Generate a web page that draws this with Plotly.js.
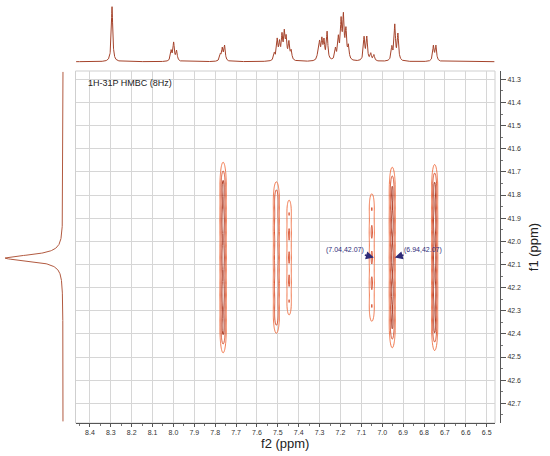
<!DOCTYPE html>
<html>
<head>
<meta charset="utf-8">
<script src="https://cdn.plot.ly/plotly-3.0.1.min.js"></script>
<style>html,body{margin:0;padding:0;background:#fff;}#chart{width:550px;height:456px;}</style>
</head>
<body>
<div id="chart"></div>
<script>
// ---------- data ----------
// 1H projection (top): peak positions (ppm) and heights (px above baseline)
const topPeakPpm = [8.294, 8.011, 7.999, 7.985, 7.776, 7.766, 7.755,
  7.517, 7.503, 7.492, 7.480, 7.469, 7.460, 7.447, 7.436,
  7.307, 7.300, 7.289, 7.279, 7.264,
  7.224, 7.210, 7.197, 7.186, 7.174, 7.162,
  7.087, 7.074, 7.055, 7.040,
  6.954, 6.940, 6.925,
  6.755, 6.743];
const topPeakHeight = [55, 10, 18, 10, 6, 12, 15,
  7, 20, 16, 23, 25, 20, 17, 9,
  9, 16, 19, 18, 28,
  11, 21, 37, 41, 28, 13,
  23, 23, 7, 6,
  13, 35, 26,
  15, 15];
const topLineHalfWidth = 0.004;

// 31P projection (left)
const leftPeakPpm = [42.072];
const leftPeakHeight = [58];
const leftLineHalfWidth = 0.016;

// 2D cross peaks
const crossF2 = [7.762, 7.507, 7.446, 7.050, 6.952, 6.749];
const crossF1 = [42.07, 42.07, 42.07, 42.07, 42.07, 42.07];
const crossHalfSpanF1 = [0.42, 0.34, 0.27, 0.30, 0.40, 0.41];
const crossHalfWidthF2 = [0.0165, 0.017, 0.015, 0.017, 0.016, 0.016];
const crossIntensity = [1.0, 0.85, 0.6, 0.6, 0.95, 1.0];

// picked-peak labels
const labelF2 = [7.04, 6.94];
const labelF1 = [42.07, 42.07];

// axis tick labels
const f2Ticks = [8.4, 8.3, 8.2, 8.1, 8.0, 7.9, 7.8, 7.7, 7.6, 7.5, 7.4, 7.3, 7.2, 7.1, 7.0, 6.9, 6.8, 6.7, 6.6, 6.5];
const f1Ticks = [41.3, 41.4, 41.5, 41.6, 41.7, 41.8, 41.9, 42.0, 42.1, 42.2, 42.3, 42.4, 42.5, 42.6, 42.7];

// ---------- build traces ----------
const f2Range = [8.469, 6.46];
const f1Range = [42.785, 41.264];

function lorentzSum(x, pos, hts, g) {
  let s = 0;
  for (let i = 0; i < pos.length; i++) {
    const d = x - pos[i];
    s += hts[i] * g * g / (d * d + g * g);
  }
  return s;
}

const topX = [], topY = [];
for (let v = 6.463; v <= 8.466; v += 0.0005) {
  topX.push(v);
  topY.push(lorentzSum(v, topPeakPpm, topPeakHeight, topLineHalfWidth));
}

const leftX = [], leftY = [];
for (let v = 41.268; v <= 42.778; v += 0.001) {
  leftY.push(v);
  leftX.push(lorentzSum(v, leftPeakPpm, leftPeakHeight, leftLineHalfWidth));
}

const gx = [], gy = [];
for (let v = 6.46; v <= 8.47; v += 0.002) gx.push(v);
for (let v = 41.26; v <= 42.79; v += 0.004) gy.push(v);
const z = gy.map(f1 => gx.map(f2 => {
  let s = 0;
  for (let i = 0; i < crossF2.length; i++) {
    const dx = f2 - crossF2[i];
    if (Math.abs(dx) > 0.07) continue;
    const h = crossHalfSpanF1[i];
    const dy = f1 - crossF1[i];
    if (Math.abs(dy) > h * 1.5) continue;
    const s2 = crossHalfWidthF2[i] / 1.665;
    const g2 = Math.exp(-0.5 * (dx / s2) * (dx / s2));
    let g1 = 0;
    for (let k = -2; k <= 2; k++) {
      const t = (dy - k * 0.37 * h) / (0.16 * h);
      g1 += Math.exp(-0.5 * t * t);
    }
    s += crossIntensity[i] * g2 * g1 / 1.3;
  }
  return s;
}));

const traces = [
  {
    type: 'contour', x: gx, y: gy, z: z, xaxis: 'x', yaxis: 'y',
    contours: {coloring: 'lines', start: 0.25, end: 1.0, size: 0.25},
    colorscale: [[0, '#f07448'], [0.34, '#d64e2c'], [0.67, '#a8341c'], [1, '#8a2613']],
    zmin: 0.25, zmax: 1.0, showscale: false, line: {width: 1}, hoverinfo: 'skip'
  },
  {
    type: 'scatter', mode: 'lines', x: topX, y: topY, xaxis: 'x2', yaxis: 'y2',
    line: {color: '#a5432b', width: 1}, hoverinfo: 'skip'
  },
  {
    type: 'scatter', mode: 'lines', x: leftX, y: leftY, xaxis: 'x3', yaxis: 'y3',
    line: {color: '#b25a40', width: 1}, hoverinfo: 'skip'
  }
];

const tickFont = {family: 'Liberation Sans, Arial, sans-serif', size: 7, color: '#333'};
const mainXDomain = [75.5 / 550, 495 / 550];
const mainYDomain = [1 - 423 / 456, 1 - 71 / 456];

const layout = {
  width: 550, height: 456,
  margin: {l: 0, r: 0, t: 0, b: 0},
  paper_bgcolor: '#fff', plot_bgcolor: '#fff',
  showlegend: false,
  xaxis: {
    domain: mainXDomain, range: f2Range, anchor: 'y',
    tickmode: 'array', tickvals: f2Ticks, ticktext: f2Ticks.map(t => t.toFixed(1)),
    ticks: 'outside', ticklen: 3, tickcolor: '#555', tickfont: tickFont,
    showline: true, linecolor: '#555', linewidth: 1,
    showgrid: true, gridcolor: '#d6d6d6', gridwidth: 1, zeroline: false,
    minor: {ticks: 'outside', dtick: 0.05, tick0: 8.4, ticklen: 2, tickcolor: '#777', showgrid: false},
    title: {text: 'f2 (ppm)', font: {family: 'Liberation Sans, Arial, sans-serif', size: 13, color: '#222'}, standoff: 3}
  },
  yaxis: {
    domain: mainYDomain, range: f1Range, anchor: 'free', position: 500 / 550, side: 'right',
    tickmode: 'array', tickvals: f1Ticks, ticktext: f1Ticks.map(t => t.toFixed(1)),
    ticks: 'outside', ticklen: 5, tickcolor: '#555', tickfont: tickFont,
    showline: true, linecolor: '#555', linewidth: 1,
    showgrid: true, gridcolor: '#d6d6d6', gridwidth: 1, zeroline: false,
    minor: {ticks: 'outside', dtick: 0.05, tick0: 41.3, ticklen: 2, tickcolor: '#777', showgrid: false},
    title: {text: 'f1 (ppm)', font: {family: 'Liberation Sans, Arial, sans-serif', size: 13, color: '#222'}, standoff: 8}
  },
  xaxis2: {domain: mainXDomain, matches: 'x', anchor: 'y2', visible: false},
  yaxis2: {domain: [1 - 64 / 456, 1], range: [-2.3, 61.7], anchor: 'x2', visible: false},
  xaxis3: {domain: [0, 70 / 550], range: [63, -7], anchor: 'y3', visible: false},
  yaxis3: {domain: mainYDomain, matches: 'y', anchor: 'x3', visible: false},
  shapes: [{
    type: 'rect', xref: 'x domain', yref: 'y domain', x0: 0, x1: 1, y0: 0, y1: 1,
    line: {color: '#cfcfcf', width: 1}, layer: 'below'
  }],
  annotations: [
    {
      xref: 'paper', yref: 'paper', x: 86 / 550, y: 1 - 83 / 456, xanchor: 'left', yanchor: 'middle',
      text: '1H-31P HMBC (8Hz)', showarrow: false,
      font: {family: 'Liberation Sans, Arial, sans-serif', size: 9, color: '#222'}
    }
  ].concat(labelF2.map((v, i) => ({
    xref: 'x', yref: 'y', x: v, y: labelF1[i],
    text: '(' + v.toFixed(2) + ',' + labelF1[i].toFixed(2) + ')',
    showarrow: true, arrowhead: 2, arrowsize: 1, arrowwidth: 1.6, arrowcolor: '#2e2a78',
    ax: i === 0 ? -29 : 28, ay: -8,
    font: {family: 'Liberation Sans, Arial, sans-serif', size: 7, color: '#2e2a78'}
  })))
};

Plotly.newPlot('chart', traces, layout, {displayModeBar: false, staticPlot: true});
</script>
</body>
</html>
